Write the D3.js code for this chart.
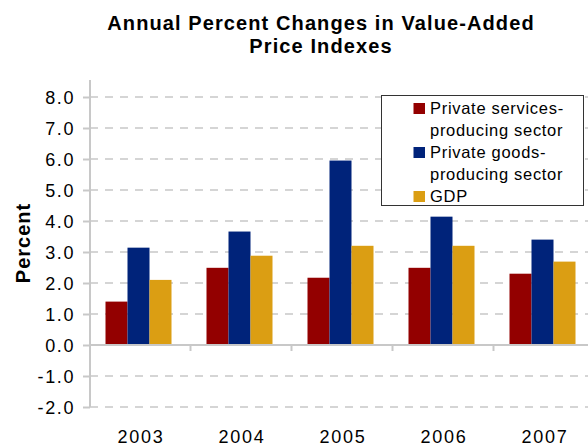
<!DOCTYPE html>
<html>
<head>
<meta charset="utf-8">
<script src="https://cdn.jsdelivr.net/npm/d3@7"></script>
<style>
  html, body { margin: 0; padding: 0; background: #fff; }
  svg { display: block; font-family: "Liberation Sans", Arial, sans-serif; }
</style>
</head>
<body>
<svg id="chart" width="588" height="447"></svg>
<script>
const years = ["2003", "2004", "2005", "2006", "2007"];
const seriesNames = ["Private services-producing sector", "Private goods-producing sector", "GDP"];
const servicesValues = [1.4, 2.49, 2.17, 2.49, 2.3];
const goodsValues = [3.14, 3.66, 5.95, 4.14, 3.4];
const gdpValues = [2.1, 2.88, 3.2, 3.2, 2.69];
const seriesColors = ["#930000", "#00237A", "#DB9E13"];
const yTicks = [-2, -1, 0, 1, 2, 3, 4, 5, 6, 7, 8];
const legendLines = [["Private services-", "producing sector"], ["Private goods-", "producing sector"], ["GDP"]];
const titleLines = ["Annual Percent Changes in Value-Added", "Price Indexes"];

const allSeries = [servicesValues, goodsValues, gdpValues];

const svg = d3.select("#chart");

const x0 = d3.scaleBand().domain(years).range([89.5, 594.5]).paddingInner(0).paddingOuter(0);
const x1 = d3.scaleBand().domain(d3.range(3)).range([16, 82]).padding(0);
const y = d3.scaleLinear().domain([-2, 8]).range([407, 97]);

// Title
svg.append("g").selectAll("text").data(titleLines).join("text")
  .attr("x", 321).attr("y", (d, i) => 30 + i * 23)
  .attr("text-anchor", "middle")
  .style("font-size", "20px").style("font-weight", "bold")
  .style("letter-spacing", "1.1px")
  .attr("fill", "#000")
  .text(d => d);

// Gridlines (dashed)
svg.append("g").selectAll("line").data(yTicks.filter(v => v !== 0)).join("line")
  .attr("x1", 90).attr("x2", 588)
  .attr("y1", d => y(d)).attr("y2", d => y(d))
  .attr("stroke", "#c8c8c8").attr("stroke-width", 1.5)
  .attr("stroke-dasharray", "8,7");

// Y axis
const fmt = v => v.toFixed(1);
const yAxis = d3.axisLeft(y).tickValues(yTicks).tickSize(7).tickFormat(fmt);
const gy = svg.append("g").attr("transform", "translate(90,0)").call(yAxis);
gy.select(".domain").remove();
gy.selectAll(".tick line").attr("stroke", "#c8c8c8").attr("stroke-width", 2);
gy.selectAll(".tick text")
  .attr("x", -15).attr("dy", "0.36em")
  .style("font-size", "18px").style("letter-spacing", "1.6px")
  .style("font-family", "'Liberation Sans', Arial, sans-serif")
  .attr("fill", "#000");
svg.append("line")
  .attr("x1", 90).attr("x2", 90).attr("y1", 80).attr("y2", y(-2))
  .attr("stroke", "#c8c8c8").attr("stroke-width", 2);

// Bars
const groups = svg.append("g").selectAll("g").data(years).join("g")
  .attr("transform", d => `translate(${x0(d)},0)`);
groups.selectAll("rect")
  .data((d, i) => allSeries.map((s, k) => ({ k, v: s[i] })))
  .join("rect")
  .attr("x", d => x1(d.k))
  .attr("width", x1.bandwidth())
  .attr("y", d => y(Math.max(0, d.v)))
  .attr("height", d => Math.abs(y(d.v) - y(0)))
  .attr("fill", d => seriesColors[d.k]);

// X axis line at zero and category separators
svg.append("line")
  .attr("x1", 90).attr("x2", 588).attr("y1", y(0)).attr("y2", y(0))
  .attr("stroke", "#c8c8c8").attr("stroke-width", 2);
svg.append("g").selectAll("line").data(years.slice(1)).join("line")
  .attr("x1", d => x0(d)).attr("x2", d => x0(d))
  .attr("y1", y(0)).attr("y2", y(0) + 6)
  .attr("stroke", "#c8c8c8").attr("stroke-width", 2);

// X labels
svg.append("g").selectAll("text").data(years).join("text")
  .attr("x", d => x0(d) + x0.bandwidth() / 2 + 1)
  .attr("y", 443)
  .attr("text-anchor", "middle")
  .style("font-size", "18px").style("letter-spacing", "1.8px")
  .attr("fill", "#000")
  .text(d => d);

// Y axis title
svg.append("text")
  .attr("transform", "translate(30,243) rotate(-90)")
  .attr("text-anchor", "middle")
  .style("font-size", "20px").style("font-weight", "bold")
  .style("letter-spacing", "1px")
  .attr("fill", "#000")
  .text("Percent");

// Legend
const lg = svg.append("g");
lg.append("rect")
  .attr("x", 381.5).attr("y", 95.5).attr("width", 202).attr("height", 110)
  .attr("fill", "#fff").attr("stroke", "#333").attr("stroke-width", 1);
let lineIdx = 0;
legendLines.forEach((lines, k) => {
  const base = 114 + lineIdx * 22;
  lg.append("rect")
    .attr("x", 413.5).attr("y", base - 11).attr("width", 11.5).attr("height", 11)
    .attr("fill", seriesColors[k]);
  lines.forEach((t, j) => {
    lg.append("text")
      .attr("x", 430).attr("y", base + j * 22)
      .style("font-size", "16.5px").style("letter-spacing", "0.7px")
      .attr("fill", "#000")
      .text(t);
  });
  lineIdx += lines.length;
});
</script>
</body>
</html>
